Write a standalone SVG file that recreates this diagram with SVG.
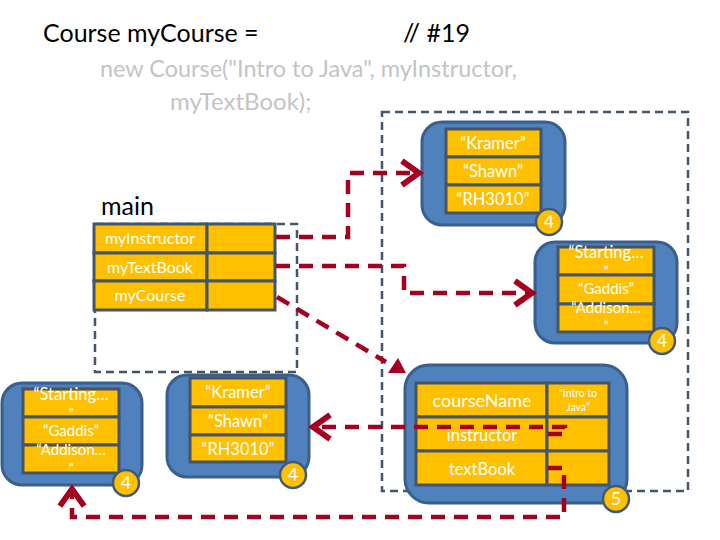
<svg xmlns="http://www.w3.org/2000/svg" width="720" height="540" viewBox="0 0 720 540">
<defs>
<style>
.t{font-family:Lato,"Open Sans","Liberation Sans",sans-serif}
.title{font-size:25px;fill:#000}
.gray{font-size:24px;fill:#c4c4c4}
.frame{fill:none;stroke:#44546A;stroke-width:2.5;stroke-dasharray:8 5}
.obj{fill:#4F81BD;stroke:#3A5F8B;stroke-width:3}
.cell{fill:#FFC000;stroke:#44546A;stroke-width:3}
.ct{font-size:16.5px;fill:#fff;text-anchor:middle}
.s{font-size:15px}
.q{font-size:14px}
.badge{fill:#FFC000;stroke:#3F5A7A;stroke-width:2.5}
.bt{font-size:18px;fill:#fff;text-anchor:middle}
.ref{fill:none;stroke:#A50021;stroke-width:4.5;stroke-dasharray:14 9}
</style>
<marker id="chev" markerWidth="7" markerHeight="7" refX="5" refY="3.5" orient="auto" markerUnits="strokeWidth" viewBox="0 0 7 7">
<path d="M1.2,0.8 L5,3.5 L1.2,6.2" fill="none" stroke="#A50021" stroke-width="1.3"/>
</marker>
</defs>
<rect width="720" height="540" fill="#fff"/>

<g id="code">
<text class="t title" x="43" y="42">Course myCourse =</text>
<text class="t title" x="403" y="42">// #19</text>
<text class="t gray" x="100" y="77" textLength="417" lengthAdjust="spacingAndGlyphs">new Course("Intro to Java", myInstructor,</text>
<text class="t gray" x="170" y="110">myTextBook);</text>
</g>

<g id="heap-frame"><rect class="frame" x="382" y="112" width="306" height="379"/></g>

<g id="main">
<text class="t title" x="101" y="215">main</text>
<rect class="frame" x="95" y="224" width="202" height="148"/>
<rect class="cell" x="94" y="224" width="113" height="29"/>
<rect class="cell" x="207" y="224" width="68" height="29"/>
<rect class="cell" x="94" y="253" width="113" height="28"/>
<rect class="cell" x="207" y="253" width="68" height="28"/>
<rect class="cell" x="94" y="281" width="113" height="29"/>
<rect class="cell" x="207" y="281" width="68" height="29"/>
<text class="t ct" x="150" y="244" style="font-size:16px">myInstructor</text>
<text class="t ct" x="150" y="273" style="font-size:16px">myTextBook</text>
<text class="t ct" x="150" y="301" style="font-size:16px">myCourse</text>
</g>

<g id="instructor-heap">
<rect class="obj" x="422" y="122" width="143" height="103" rx="20"/>
<rect class="cell" x="446" y="129" width="95" height="28"/>
<rect class="cell" x="446" y="157" width="95" height="28"/>
<rect class="cell" x="446" y="185" width="95" height="28"/>
<text class="t ct" x="493" y="149">“Kramer”</text>
<text class="t ct" x="493" y="177">“Shawn”</text>
<text class="t ct" x="493" y="205">“RH3010”</text>
<circle class="badge" cx="549" cy="222" r="13"/>
<text class="t bt" x="549" y="228">4</text>
</g>

<g id="textbook-heap">
<rect class="obj" x="535" y="242" width="142" height="101" rx="20"/>
<rect class="cell" x="558" y="247" width="96" height="28"/>
<rect class="cell" x="558" y="275" width="96" height="29"/>
<rect class="cell" x="558" y="304" width="96" height="28"/>
<text class="t ct" x="606" y="258">“Starting…</text>
<text class="t ct q" x="606" y="276">”</text>
<text class="t ct s" x="606" y="294">“Gaddis”</text>
<text class="t ct s" x="606" y="313">“Addison…</text>
<text class="t ct q" x="606" y="331">”</text>
<circle class="badge" cx="662" cy="341" r="13"/>
<text class="t bt" x="662" y="347">4</text>
</g>

<g id="textbook-copy">
<rect class="obj" x="2" y="383" width="140" height="102" rx="20"/>
<rect class="cell" x="23" y="389" width="96" height="28"/>
<rect class="cell" x="23" y="417" width="96" height="28"/>
<rect class="cell" x="23" y="445" width="96" height="28"/>
<text class="t ct" x="71" y="400">“Starting…</text>
<text class="t ct q" x="71" y="418">”</text>
<text class="t ct s" x="71" y="436">“Gaddis”</text>
<text class="t ct s" x="71" y="455">“Addison…</text>
<text class="t ct q" x="71" y="473">”</text>
<circle class="badge" cx="126" cy="483" r="13"/>
<text class="t bt" x="126" y="489">4</text>
</g>

<g id="instructor-copy">
<rect class="obj" x="167" y="375" width="142" height="102" rx="20"/>
<rect class="cell" x="190" y="378" width="96" height="29"/>
<rect class="cell" x="190" y="407" width="96" height="28"/>
<rect class="cell" x="190" y="435" width="96" height="27"/>
<text class="t ct" x="238" y="398">“Kramer”</text>
<text class="t ct" x="238" y="427">“Shawn”</text>
<text class="t ct" x="238" y="455">“RH3010”</text>
<circle class="badge" cx="293" cy="475" r="13"/>
<text class="t bt" x="293" y="481">4</text>
</g>

<g id="course">
<rect class="obj" x="405" y="365" width="222" height="138" rx="24"/>
<rect class="cell" x="416" y="383" width="131" height="34"/>
<rect class="cell" x="547" y="383" width="62" height="34"/>
<rect class="cell" x="416" y="417" width="131" height="34"/>
<rect class="cell" x="547" y="417" width="62" height="34"/>
<rect class="cell" x="416" y="451" width="131" height="34"/>
<rect class="cell" x="547" y="451" width="62" height="34"/>
<text class="t ct" x="482" y="407" style="font-size:18px">courseName</text>
<text class="t ct" x="578" y="397" style="font-size:10.5px">"Intro to</text>
<text class="t ct" x="578" y="411" style="font-size:10.5px">Java”</text>
<text class="t ct" x="482" y="441">instructor</text>
<text class="t ct" x="482" y="475">textBook</text>
<circle class="badge" cx="616" cy="499" r="13"/>
<text class="t bt" x="616" y="505">5</text>
</g>

<g id="connectors">
<path class="ref" d="M276,237 H348 V173 H419" marker-end="url(#chev)"/>
<path class="ref" d="M276,266 H404 V293 H532" marker-end="url(#chev)"/>
<path class="ref" d="M277,297 L386,362"/>
<polygon points="398,358 388,373 406,373" fill="#A50021"/>
<path class="ref" d="M548,434 H565 V427 H313" marker-end="url(#chev)"/>
<path class="ref" d="M548,468 H564 V517 H72 V489" marker-end="url(#chev)"/>
</g>
</svg>
